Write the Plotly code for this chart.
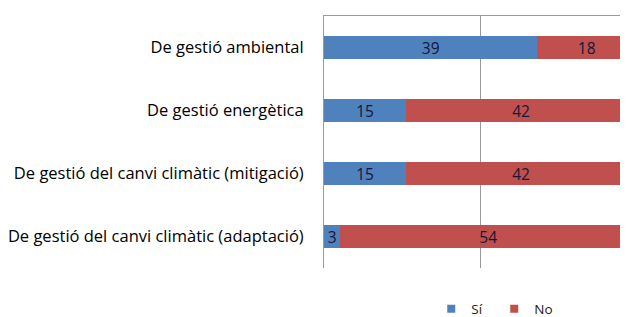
import plotly.graph_objects as go

categories = [
    "De gestió ambiental",
    "De gestió energètica",
    "De gestió del canvi climàtic (mitigació)",
    "De gestió del canvi climàtic (adaptació)",
]
si_values = [39, 15, 15, 3]
no_values = [18, 42, 42, 54]
series_names = ["Sí", "No"]
colors = ["#4F81BD", "#C0504D"]

# page body adds an 8px margin; the figure is offset by it and may run past the window edge
W, H = 620, 340
left, top = 316, 8
plot_h = 252
bottom = H - top - plot_h

fig = go.Figure()
for name, vals, col in zip(series_names, [si_values, no_values], colors):
    fig.add_trace(go.Bar(
        y=categories, x=vals, name=name, orientation="h",
        marker=dict(color=col, line=dict(width=0)),
        text=[str(v) for v in vals], textposition="inside", textangle=0,
        insidetextanchor="middle", constraintext="none",
        textfont=dict(family="Open Sans", size=15.5, color="#16163a"),
        showlegend=False,
    ))
# legend entries with small square swatches
for name, col in zip(series_names, colors):
    fig.add_trace(go.Scatter(
        x=[None], y=[None], mode="markers", name=name,
        marker=dict(symbol="square", size=8, color=col),
        showlegend=True,
    ))

fig.update_layout(
    width=W, height=H,
    margin=dict(l=left, r=0, t=top, b=bottom, pad=0),
    barmode="stack", barnorm="percent", bargap=0.62,
    plot_bgcolor="white", paper_bgcolor="white",
    font=dict(family="Open Sans", size=16.5, color="black"),
    legend=dict(orientation="h", x=0.56, xanchor="center", y=-0.163, yanchor="middle",
                traceorder="normal", font=dict(family="Open Sans", size=13.5, color="#222"),
                itemwidth=30, entrywidth=18, entrywidthmode="pixels"),
)
fig.update_xaxes(range=[0, 100 * (W - left) / 312], side="top", showline=True,
                 linecolor="#9a9a9a", linewidth=1, tickvals=[50], showticklabels=False,
                 ticks="", showgrid=True, gridcolor="#9a9a9a", gridwidth=1, zeroline=False,
                 fixedrange=True)
fig.update_yaxes(autorange="reversed", showline=True, linecolor="#9a9a9a", linewidth=1,
                 ticks="", ticklabelstandoff=16, showgrid=False,
                 tickfont=dict(family="Open Sans", size=16.5, color="black"))

fig.write_html("out.html")
